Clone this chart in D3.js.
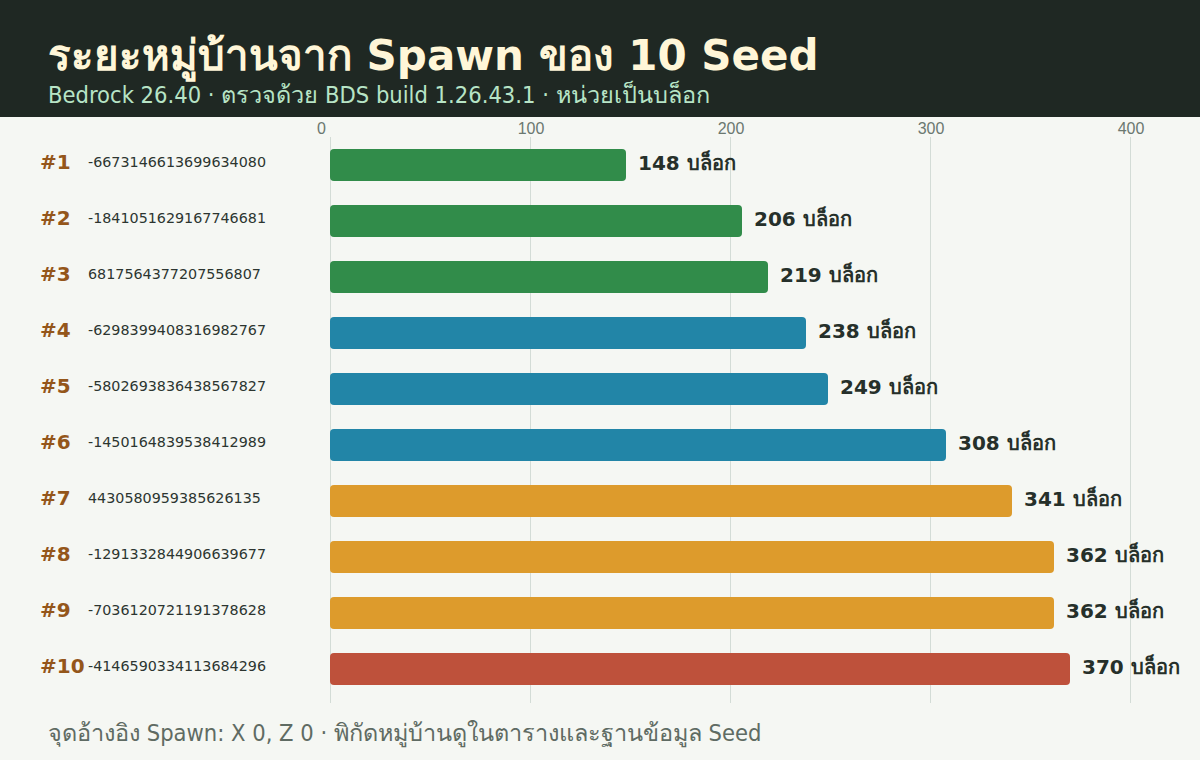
<!DOCTYPE html>
<html>
<head>
<meta charset="utf-8">
<script src="https://cdn.jsdelivr.net/npm/d3@7"></script>
<style>
  html, body { margin: 0; padding: 0; background: #f5f7f3; }
  svg { display: block; }
</style>
</head>
<body>
<div id="chart"></div>
<script>
// Data
const ranks = ['#1', '#2', '#3', '#4', '#5', '#6', '#7', '#8', '#9', '#10'];
const seeds = [
    '-6673146613699634080',
    '-1841051629167746681',
    '6817564377207556807',
    '-6298399408316982767',
    '-5802693836438567827',
    '-1450164839538412989',
    '4430580959385626135',
    '-1291332844906639677',
    '-7036120721191378628',
    '-4146590334113684296'
];
const distances = [148, 206, 219, 238, 249, 308, 341, 362, 362, 370];
const tiers = ['near', 'near', 'near', 'mid', 'mid', 'mid', 'far', 'far', 'far', 'farthest'];
const xTicks = [0, 100, 200, 300, 400];

const tierColor = d3.scaleOrdinal()
    .domain(['near', 'mid', 'far', 'farthest'])
    .range(['#318c4a', '#2285a7', '#dd9b2c', '#be513b']);

const width = 1200;
const height = 760;
const margin = { top: 137, right: 70, bottom: 63, left: 330 };

const svg = d3.select('#chart')
    .append('svg')
    .attr('width', width)
    .attr('height', height);

svg.append('rect')
    .attr('width', width)
    .attr('height', height)
    .attr('fill', '#f5f7f3');

// Header band
svg.append('rect')
    .attr('width', width)
    .attr('height', 117)
    .attr('fill', '#1f2823');

svg.append('text')
    .attr('x', 48)
    .attr('y', 70)
    .attr('fill', '#fff6d8')
    .style('font-family', '"DejaVu Sans", "Noto Sans", sans-serif')
    .style('font-weight', 'bold')
    .style('font-size', '42px')
    .text('ระยะหมู่บ้านจาก Spawn ของ 10 Seed');

svg.append('text')
    .attr('x', 48)
    .attr('y', 103)
    .attr('fill', '#b7e4c6')
    .style('font-family', '"DejaVu Sans Condensed", "DejaVu Sans", sans-serif')
    .style('font-size', '23.5px')
    .text('Bedrock 26.40 · ตรวจด้วย BDS build 1.26.43.1 · หน่วยเป็นบล็อก');

// Scales
const x = d3.scaleLinear()
    .domain([0, 400])
    .range([margin.left, margin.left + 800]);

const y = d3.scaleBand()
    .domain(ranks)
    .range([margin.top, height - margin.bottom])
    .paddingInner(0.43)
    .paddingOuter(0.215);

// Grid lines
svg.append('g')
    .selectAll('line')
    .data(xTicks)
    .join('line')
    .attr('x1', d => x(d) + 0.5)
    .attr('x2', d => x(d) + 0.5)
    .attr('y1', margin.top)
    .attr('y2', height - margin.bottom + 6)
    .attr('stroke', '#d3dcd6')
    .attr('stroke-width', 1);

// Top axis labels
svg.append('g')
    .selectAll('text')
    .data(xTicks)
    .join('text')
    .attr('x', d => d === 0 ? x(d) - 4 : x(d) + 1)
    .attr('y', 134)
    .attr('text-anchor', d => d === 0 ? 'end' : 'middle')
    .attr('fill', '#6b7870')
    .style('font-family', '"Liberation Sans", Arial, sans-serif')
    .style('font-size', '16px')
    .text(d => d);

// Bars
svg.append('g')
    .selectAll('rect')
    .data(distances)
    .join('rect')
    .attr('x', x(0))
    .attr('y', (d, i) => y(ranks[i]))
    .attr('width', d => x(d) - x(0))
    .attr('height', y.bandwidth())
    .attr('rx', 4)
    .attr('fill', (d, i) => tierColor(tiers[i]));

// Value labels
svg.append('g')
    .selectAll('text')
    .data(distances)
    .join('text')
    .attr('x', d => x(d) + 12)
    .attr('y', (d, i) => y(ranks[i]) + y.bandwidth() / 2 + 5)
    .attr('fill', '#26302a')
    .style('font-family', '"DejaVu Sans", sans-serif')
    .style('font-weight', 'bold')
    .style('font-size', '20px')
    .text(d => `${d} บล็อก`);

// Rank labels
svg.append('g')
    .selectAll('text')
    .data(ranks)
    .join('text')
    .attr('x', 40)
    .attr('y', d => y(d) + y.bandwidth() / 2 + 4)
    .attr('fill', '#94561a')
    .style('font-family', '"DejaVu Sans", sans-serif')
    .style('font-weight', 'bold')
    .style('font-size', '20px')
    .text(d => d);

// Seed labels
svg.append('g')
    .selectAll('text')
    .data(seeds)
    .join('text')
    .attr('x', 88)
    .attr('y', (d, i) => y(ranks[i]) + y.bandwidth() / 2 + 2)
    .attr('fill', '#2c3530')
    .style('font-family', '"DejaVu Sans", sans-serif')
    .style('font-size', '14.3px')
    .text(d => d);

// Footer note
svg.append('text')
    .attr('x', 48)
    .attr('y', 741)
    .attr('fill', '#5f6b63')
    .style('font-family', '"DejaVu Sans Condensed", "DejaVu Sans", sans-serif')
    .style('font-size', '23.5px')
    .text('จุดอ้างอิง Spawn: X 0, Z 0 · พิกัดหมู่บ้านดูในตารางและฐานข้อมูล Seed');
</script>
</body>
</html>
